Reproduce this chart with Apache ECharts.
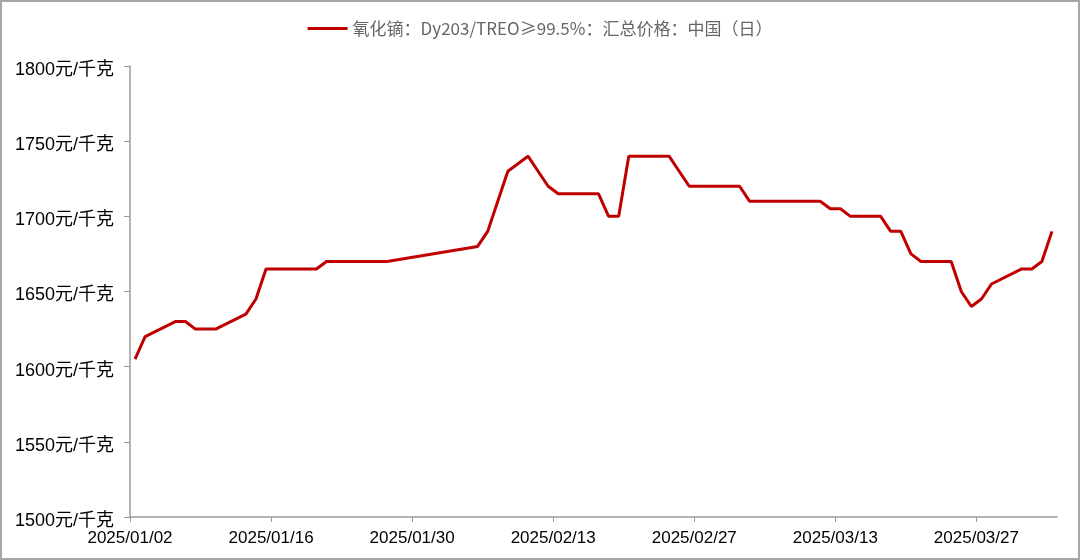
<!DOCTYPE html>
<html>
<head>
<meta charset="utf-8">
<script src="https://cdn.jsdelivr.net/npm/echarts@6/dist/echarts.min.js"></script>
<style>
html,body{margin:0;padding:0;background:#fff;}
#chart{width:1080px;height:560px;}
</style>
</head>
<body>
<div id="chart"></div>
<script>
const seriesName = '氧化镝：Dy203/TREO≥99.5%：汇总价格：中国（日）';
const dates = [
  '2025-01-02','2025-01-03','2025-01-06','2025-01-07','2025-01-08','2025-01-09','2025-01-10',
  '2025-01-13','2025-01-14','2025-01-15','2025-01-16','2025-01-17','2025-01-20','2025-01-21',
  '2025-01-22','2025-01-23','2025-01-24','2025-01-26','2025-01-27','2025-02-05','2025-02-06',
  '2025-02-07','2025-02-08','2025-02-10','2025-02-11','2025-02-12','2025-02-13','2025-02-14',
  '2025-02-17','2025-02-18','2025-02-19','2025-02-20','2025-02-21','2025-02-24','2025-02-25',
  '2025-02-26','2025-02-27','2025-02-28','2025-03-03','2025-03-04','2025-03-05','2025-03-06',
  '2025-03-07','2025-03-10','2025-03-11','2025-03-12','2025-03-13','2025-03-14','2025-03-17',
  '2025-03-18','2025-03-19','2025-03-20','2025-03-21','2025-03-24','2025-03-25','2025-03-26',
  '2025-03-27','2025-03-28','2025-03-31','2025-04-01','2025-04-02','2025-04-03'
];
const prices = [
  1605,1620,1630,1630,1625,1625,1625,
  1635,1645,1665,1665,1665,1665,1670,
  1670,1670,1670,1670,1670,1680,1690,
  1710,1730,1740,1730,1720,1715,1715,
  1715,1700,1700,1740,1740,1740,1730,
  1720,1720,1720,1720,1710,1710,1710,
  1710,1710,1710,1705,1705,1700,1700,
  1690,1690,1675,1670,1670,1650,1640,
  1645,1655,1665,1665,1670,1690
];
const xTickLabels = ['2025/01/02','2025/01/16','2025/01/30','2025/02/13','2025/02/27','2025/03/13','2025/03/27'];
const xAxisEnd = '2025-04-04';
const yTicks = [1500,1550,1600,1650,1700,1750,1800];
const yUnit = '元/千克';

function dayNum(s){
  const p = s.split(/[-\/]/).map(Number);
  return Date.UTC(p[0], p[1]-1, p[2]) / 86400000;
}
function fmt(d){
  const dt = new Date(Math.round(d) * 86400000);
  const mm = String(dt.getUTCMonth()+1).padStart(2,'0');
  const dd = String(dt.getUTCDate()).padStart(2,'0');
  return dt.getUTCFullYear() + '/' + mm + '/' + dd;
}
const tickDays = xTickLabels.map(dayNum);
// daily observations are plotted at mid-day
const seriesData = dates.map((d,i) => [dayNum(d) + 0.5, prices[i]]);

const chart = echarts.init(document.getElementById('chart'), null, {renderer:'canvas'});
const txtFont = "'Liberation Sans', 'Noto Sans CJK SC', sans-serif";
chart.setOption({
  animation:false,
  backgroundColor:'#ffffff',
  graphic:[{
    type:'rect', silent:true, z:-1,
    shape:{x:1,y:1,width:1078,height:558},
    style:{fill:'none', stroke:'#a6a6a6', lineWidth:2}
  }],
  legend:{
    top:15, left:'center',
    icon:'rect',
    itemWidth:40, itemHeight:3, itemGap:10,
    textStyle:{color:'#666666', fontSize:17, fontFamily:"'Noto Sans CJK SC', sans-serif"},
    data:[seriesName]
  },
  grid:{left:130, right:23, top:66, bottom:43, containLabel:false},
  xAxis:{
    type:'value',
    min:tickDays[0],
    max:dayNum(xAxisEnd),
    splitLine:{show:false},
    axisLine:{show:true, lineStyle:{color:'#9a9a9a', width:1.5}},
    axisTick:{show:true, length:5, customValues:tickDays, lineStyle:{color:'#9a9a9a', width:1}},
    axisLabel:{
      customValues:tickDays,
      formatter:(v)=>fmt(v),
      color:'#000', fontSize:17, fontFamily:txtFont, margin:13
    }
  },
  yAxis:{
    type:'value',
    min:yTicks[0], max:yTicks[yTicks.length-1], interval:yTicks[1]-yTicks[0],
    splitLine:{show:false},
    axisLine:{show:true, lineStyle:{color:'#9a9a9a', width:1.5}},
    axisTick:{show:true, length:6, lineStyle:{color:'#9a9a9a', width:1}},
    axisLabel:{
      formatter:(v)=>v + yUnit,
      color:'#000', fontSize:18, fontFamily:txtFont, margin:16,
      verticalAlign:'top', lineHeight:8
    }
  },
  series:[{
    name:seriesName,
    type:'line',
    data:seriesData,
    symbol:'none',
    showSymbol:false,
    lineStyle:{color:'#C00000', width:3},
    itemStyle:{color:'#C00000'}
  }]
});
</script>
</body>
</html>
